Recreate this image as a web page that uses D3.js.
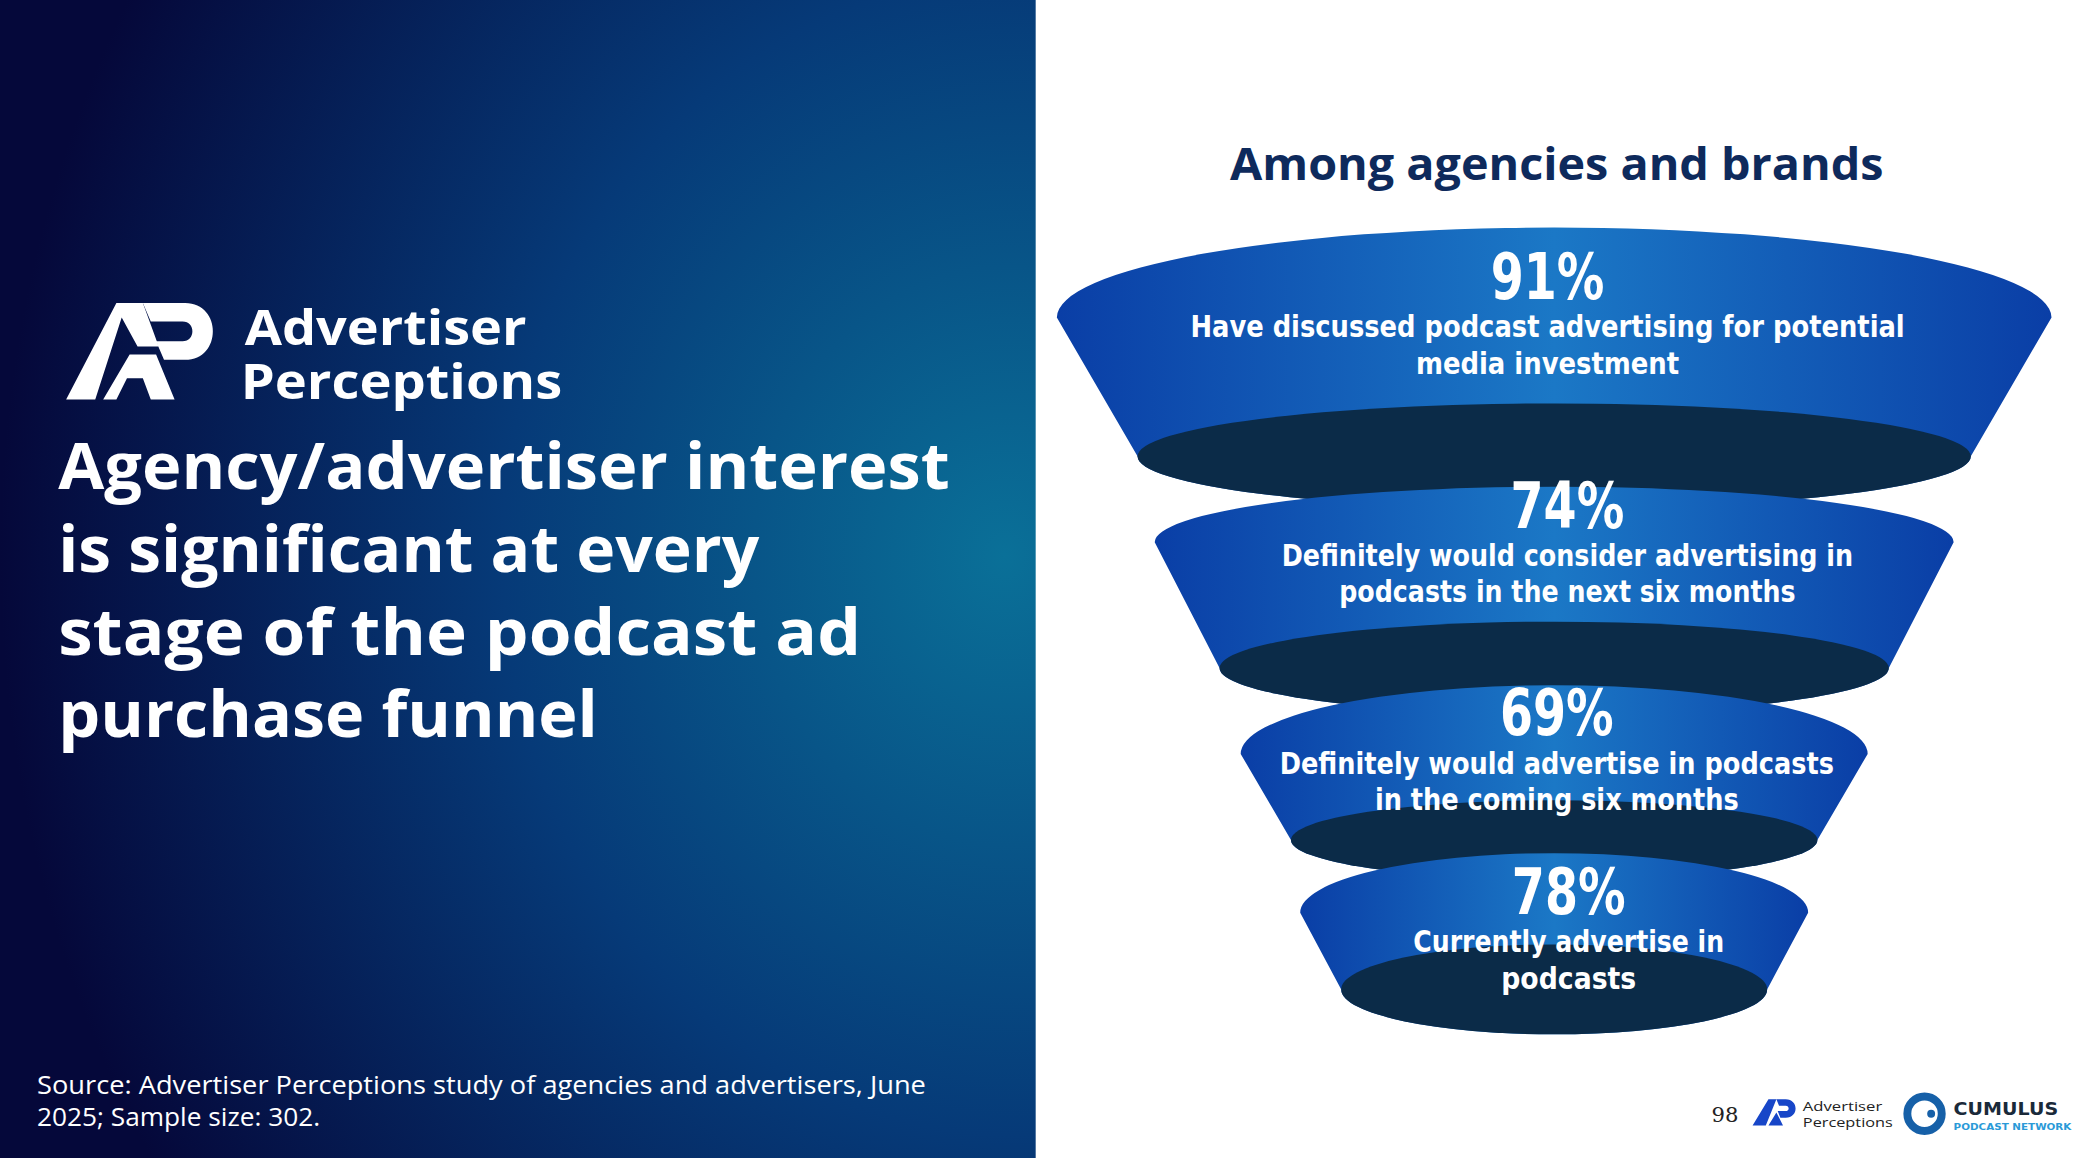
<!DOCTYPE html>
<html><head><meta charset="utf-8">
<script src="https://cdn.jsdelivr.net/npm/d3@7"></script>
<style>html,body{margin:0;padding:0;background:#fff;overflow:hidden}</style>
</head><body><svg id="c" width="2074" height="1158"></svg>
<script>
const values = [91, 74, 69, 78];
const labels = [
  ["Have discussed podcast advertising for potential", "media investment"],
  ["Definitely would consider advertising in", "podcasts in the next six months"],
  ["Definitely would advertise in podcasts", "in the coming six months"],
  ["Currently advertise in", "podcasts"]
];
const headline = ["Agency/advertiser interest", "is significant at every", "stage of the podcast ad", "purchase funnel"];
const chartTitle = "Among agencies and brands";
const source = ["Source: Advertiser Perceptions study of agencies and advertisers, June", "2025; Sample size: 302."];

// funnel geometry and text fitting widths (layout, in 1568-wide design units)
const segs = [
  {ty:240, trx:376, try:68, by:345, brx:315, bry:40, cx:1175, tx:1170, py:208, lw:[540,199]},
  {ty:410, trx:302, try:42, by:505, brx:253, bry:35, cx:1175, tx:1185, py:381, lw:[432,345]},
  {ty:570, trx:237, try:52, by:635, brx:199, bry:30, cx:1175, tx:1177, py:538, lw:[419,275]},
  {ty:690, trx:192, try:45, by:748, brx:161, bry:34, cx:1175, tx:1186, py:673, lw:[235,102]}
];

const svg = d3.select("#c");
const defs = svg.append("defs");
const bg = defs.append("radialGradient").attr("id","bg").attr("cx","1").attr("cy","0.48").attr("r","1.0").attr("fx","0.97").attr("fy","0.48");
bg.append("stop").attr("offset","0").attr("stop-color","#0a7098");
bg.append("stop").attr("offset","0.5").attr("stop-color","#063a78");
bg.append("stop").attr("offset","1").attr("stop-color","#05083a");
const bl = defs.append("linearGradient").attr("id","blue").attr("x1","0").attr("x2","1").attr("y1","0").attr("y2","0");
bl.append("stop").attr("offset","0").attr("stop-color","#0a3ea6");
bl.append("stop").attr("offset","0.5").attr("stop-color","#1b78c6");
bl.append("stop").attr("offset","1").attr("stop-color","#0a3ea6");

const g = svg.append("g").attr("transform","scale(" + (2074/1568) + ")");
g.append("rect").attr("x",0).attr("y",0).attr("width",783).attr("height",876).attr("fill","url(#bg)");

const fit = (sel,w)=>sel.attr("textLength",w).attr("lengthAdjust","spacingAndGlyphs");

// logo
const logo = g.append("g").attr("fill","#fff");
logo.append("path").attr("d","M50,302 L88,229 L108,229 L120,262 L104,262 L92,240 L72,302 Z");
logo.append("path").attr("d","M78,302 L98,268 L118,268 L132,302 L114,302 L108,286 L96,286 L88,302 Z");
logo.append("path").attr("d","M108,229 L140,229 C168,229 168,272 140,272 L124,272 L118,258 L138,258 C148,258 148,243 138,243 L114,243 Z");
fit(logo.append("text").attr("x",185).attr("y",261).attr("font-family","'Open Sans', sans-serif").attr("font-weight",700).attr("font-size",37).text("Advertiser"),213);
fit(logo.append("text").attr("x",182).attr("y",302).attr("font-family","'Open Sans', sans-serif").attr("font-weight",700).attr("font-size",37).text("Perceptions"),243);

const hw=[674,530,607,408];
g.append("g").selectAll("text").data(headline).join("text")
  .attr("x",44).attr("y",(d,i)=>370+i*62.5)
  .attr("fill","#fff").attr("font-family","'Open Sans', sans-serif").attr("font-weight",700).attr("font-size",49)
  .attr("textLength",(d,i)=>hw[i]).attr("lengthAdjust","spacingAndGlyphs")
  .text(d=>d);
g.append("g").selectAll("text").data(source).join("text")
  .attr("x",28).attr("y",(d,i)=>827+i*24)
  .attr("fill","#fff").attr("font-family","'Open Sans', sans-serif").attr("font-size",19)
  .attr("textLength",(d,i)=>[672,214][i]).attr("lengthAdjust","spacingAndGlyphs").text(d=>d);

fit(g.append("text").attr("x",930).attr("y",136)
  .attr("fill","#0e2a5c").attr("font-family","'Open Sans', sans-serif").attr("font-weight",700).attr("font-size",34).text(chartTitle),494);

const data = values.map((v,i)=>({v, lab:labels[i], s:segs[i]}));
const seg = g.append("g").selectAll("g").data(data).join("g");
seg.append("path").attr("fill","url(#blue)").attr("d",d=>{
  const s=d.s;
  return `M${s.cx-s.trx},${s.ty} A${s.trx},${s.try} 0 0 1 ${s.cx+s.trx},${s.ty} L${s.cx+s.brx},${s.by} A${s.brx},${s.bry} 0 0 1 ${s.cx-s.brx},${s.by} Z`;
});
seg.append("ellipse").attr("cx",d=>d.s.cx).attr("cy",d=>d.s.by).attr("rx",d=>d.s.brx).attr("ry",d=>d.s.bry).attr("fill","#0b2b48");
seg.append("text").attr("x",d=>d.s.tx-43).attr("y",d=>d.s.py+18)
  .attr("fill","#fff").attr("font-family","'DejaVu Sans Condensed',sans-serif").attr("font-weight",700).attr("font-size",48)
  .attr("textLength",86).attr("lengthAdjust","spacingAndGlyphs")
  .text(d=>d.v+"%");
seg.each(function(d){
  d3.select(this).selectAll("text.l").data(d.lab).join("text").attr("class","l")
    .attr("x",(t,i)=>d.s.tx-d.s.lw[i]/2).attr("y",(t,i)=>d.s.py+47+i*27.5)
    .attr("fill","#fff").attr("font-family","'DejaVu Sans Condensed',sans-serif").attr("font-weight",700).attr("font-size",23)
    .attr("textLength",(t,i)=>d.s.lw[i]).attr("lengthAdjust","spacingAndGlyphs")
    .text(t=>t);
});

// footer
const f = g.append("g");
f.append("text").attr("x",1294).attr("y",848).attr("font-family","'DejaVu Serif',serif").attr("font-size",16).attr("fill","#222").text("98");
f.append("path").attr("fill","#1746c8").attr("d","M1325,851 L1337,831 L1343,831 L1335,851 Z M1337,851 L1343,841 L1348,851 Z M1343,831 L1350,831 C1360,831 1360,845 1350,845 L1346,845 L1344,840 L1350,840 C1353,840 1353,836 1350,836 L1345,836 Z");
fit(f.append("text").attr("x",1363).attr("y",840).attr("font-family","'Open Sans',sans-serif").attr("font-size",10).attr("fill","#222").text("Advertiser"),60);
fit(f.append("text").attr("x",1363).attr("y",852).attr("font-family","'Open Sans',sans-serif").attr("font-size",10).attr("fill","#222").text("Perceptions"),68);
f.append("circle").attr("cx",1455).attr("cy",842).attr("r",13).attr("fill","none").attr("stroke","#1660a8").attr("stroke-width",6);
f.append("circle").attr("cx",1460).attr("cy",842).attr("r",3).attr("fill","#1660a8");
fit(f.append("text").attr("x",1477).attr("y",843).attr("font-family","'DejaVu Sans',sans-serif").attr("font-weight",700).attr("font-size",13).attr("fill","#1a2a3a").text("CUMULUS"),79);
fit(f.append("text").attr("x",1477).attr("y",854).attr("font-family","'DejaVu Sans',sans-serif").attr("font-weight",700).attr("font-size",7).attr("fill","#2a9ad8").text("PODCAST NETWORK"),89);
</script></body></html>
